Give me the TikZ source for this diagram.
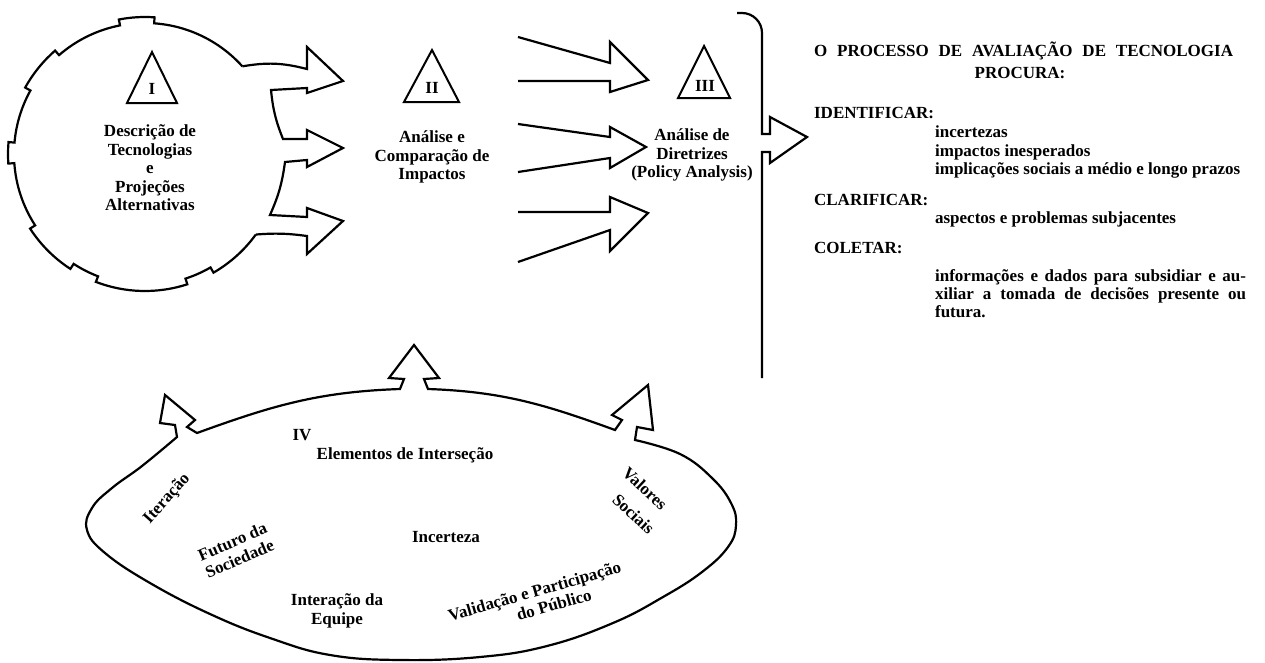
\documentclass[tikz,border=0pt]{standalone}
\usepackage{fontspec}
\setmainfont{Liberation Serif}
\begin{document}
\begin{tikzpicture}[x=1pt,y=1pt,line width=2.2pt,
    every node/.style={inner sep=0pt,font=\bfseries\fontsize{17}{18.5}\selectfont},
    lbl/.style={align=center},
    txt/.style={anchor=base west}]
\useasboundingbox (0,0) rectangle (1265,-662);

% gear I
\begin{scope}[shift={(145,-154)}]
  \coordinate (g1) at (42:131);
  \coordinate (g2) at (324:137);
  \draw (g1) arc[start angle=42,end angle=86,radius=131] -- (86:137)
    arc[start angle=86,end angle=101,radius=137] -- (101:131)
    arc[start angle=101,end angle=131,radius=131] -- (131:137)
    arc[start angle=131,end angle=151,radius=137] -- (151:131)
    arc[start angle=151,end angle=175,radius=131] -- (175:137)
    arc[start angle=175,end angle=184,radius=137] -- (184:131)
    arc[start angle=184,end angle=213,radius=131] -- (213:137)
    arc[start angle=213,end angle=237,radius=137] -- (237:131)
    arc[start angle=237,end angle=249,radius=131] -- (249:137)
    arc[start angle=249,end angle=288,radius=137] -- (288:131)
    arc[start angle=288,end angle=300,radius=131] -- (300:137)
    arc[start angle=300,end angle=324,radius=137];
\end{scope}
\draw (g1) to[bend left=12] (307,-69) -- (307,-47) -- (343,-81) -- (307,-93) -- (307,-88) -- (271,-90)
  to[bend right=8] (283,-139) -- (307,-139) -- (307,-130) -- (343,-148) -- (307,-167) -- (307,-160) -- (285,-162)
  to[bend left=8] (270,-215) -- (307,-217) -- (307,-208) -- (343,-221) -- (307,-254) -- (307,-236) to[bend right=6] (g2);

% arrows II -> III
\draw (518,-37) -- (610,-63) -- (610,-42) -- (648,-80) -- (610,-92) -- (610,-81) -- (518,-81);
\draw (518,-124) -- (610,-137) -- (610,-127) -- (646,-147) -- (610,-168) -- (610,-158) -- (518,-172);
\draw (518,-212) -- (610,-212) -- (610,-197) -- (648,-213) -- (610,-251) -- (610,-230) -- (518,-262);

% bracket
\draw (737,-13) [rounded corners=20pt] -- (762,-13) -- (762,-70) [sharp corners] -- (762,-134) -- (770,-134)
  -- (770,-117) -- (807,-137) -- (770,-163) -- (770,-152) -- (762,-152) -- (762,-378);

% triangles
\draw[line width=2pt] (152,-52) -- (127,-103) -- (177,-103) -- cycle;
\draw[line width=2pt] (432,-50) -- (404,-102) -- (459,-102) -- cycle;
\draw[line width=2pt] (704,-46) -- (678,-98) -- (730,-98) -- cycle;
\node (nI) at (152,-89) {I};
\node (nII) at (432,-88) {II};
\node (nIII) at (705,-86) {III};

\node[lbl] (descI) at (150,-168) {Descrição de\\Tecnologias\\e\\Projeções\\Alternativas};
\node[lbl] (descII) at (432,-157) {Análise e\\Comparação de\\Impactos};
\node[lbl] (descIII) at (692,-155) {Análise de\\Diretrizes\\(Policy Analysis)};

% right column
\node[txt] (proc) at (813,-56) {\makebox[419pt][s]{O PROCESSO DE AVALIAÇÃO DE TECNOLOGIA}};
\node[anchor=base] (procura) at (1020,-78) {PROCURA:};
\node[txt] (ident) at (813,-118) {IDENTIFICAR:};
\node[txt] (inc) at (934,-137) {incertezas};
\node[txt] (imp) at (934,-156) {impactos inesperados};
\node[txt] (impl) at (934,-174) {implicações sociais a médio e longo prazos};
\node[txt] (clar) at (813,-205) {CLARIFICAR:};
\node[txt] (asp) at (934,-223) {aspectos e problemas subjacentes};
\node[txt] (colet) at (813,-253) {COLETAR:};
\node[txt] (info1) at (934,-281) {\makebox[311pt][s]{informações e dados para subsidiar e au-}};
\node[txt] (info2) at (934,-299) {\makebox[311pt][s]{xiliar a tomada de decisões presente ou}};
\node[txt] (info3) at (934,-317) {futura.};

% lens IV
\draw (177,-437) -- (175,-425) -- (160,-423) -- (165,-395) -- (195,-420) -- (187,-427) -- (197,-433)
  to[out=20,in=182] (400,-389) -- (404,-379) -- (389,-378) -- (414,-345) -- (439,-378) -- (424,-379) -- (428,-389)
  to[out=-2,in=160] (615,-430) -- (622,-420) -- (612,-415) -- (648,-385) -- (653,-430) -- (637,-427) -- (635,-440)
  -- plot[smooth,tension=0.7] coordinates {(635,-440) (680,-454) (712,-478) (731,-503) (736,-525) (728,-547)
     (702,-572) (663,-597) (613,-623) (547,-646) (480,-657) (400,-660) (330,-655) (270,-638) (210,-614)
     (150,-583) (105,-553) (87,-530) (92,-508) (112,-488) (142,-466) (177,-437)} -- cycle;

\node (IV) at (302,-435) {IV};
\node (elem) at (405,-455) {Elementos de Interseção};
\node[rotate=48] (iter) at (167,-499) {Iteração};
\node[lbl,rotate=23] (futuro) at (236,-550) {Futuro da\\Sociedade};
\node (incert) at (446,-537) {Incerteza};
\node[lbl] (equipe) at (337,-611) {Interação da\\Equipe};
\node[lbl,rotate=16] (valid) at (537,-600) {Validação e Participação\\\hspace*{30pt}do Público};
\node[lbl,rotate=-43] (valores) at (636,-498) {Valores\\[8pt]\hspace*{18pt}Sociais};
\end{tikzpicture}
\end{document}
